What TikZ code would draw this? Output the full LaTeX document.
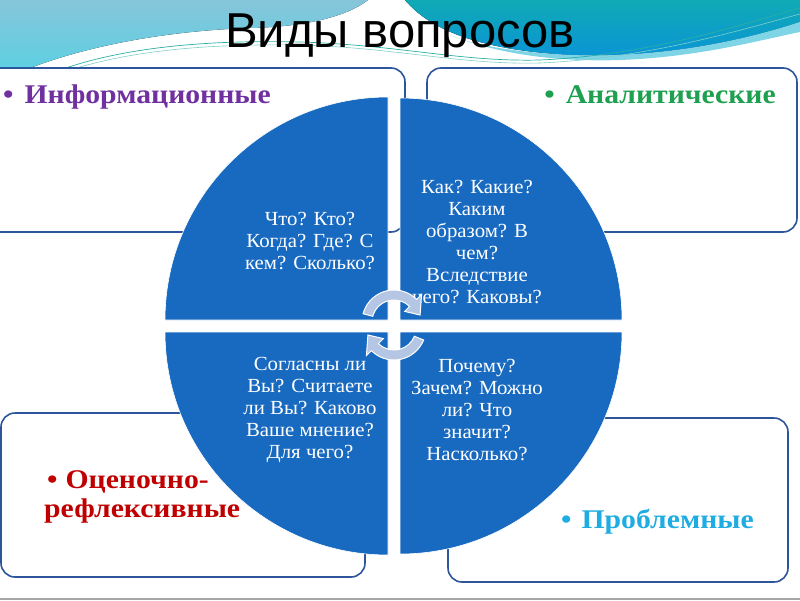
\documentclass[tikz,border=0pt]{standalone}
\usepackage{fontspec}
\setmainfont{Liberation Serif}
\newfontfamily\titlefont{Liberation Sans}
\newfontfamily\labelfont[FakeStretch=1.1]{Liberation Serif}
\newfontfamily\quadfont[FakeStretch=1.04]{Liberation Serif}
\definecolor{pieblue}{RGB}{24,105,192}
\definecolor{boxline}{RGB}{45,85,155}
\definecolor{lbtop}{RGB}{134,197,218}
\definecolor{lbbot}{RGB}{93,208,226}
\definecolor{tealtop}{RGB}{16,170,181}
\definecolor{tealbot}{RGB}{10,148,214}
\definecolor{cyanband}{RGB}{127,212,230}
\definecolor{wline}{RGB}{40,175,165}
\definecolor{arrowfill}{RGB}{180,198,228}
\definecolor{infopurple}{RGB}{112,48,160}
\definecolor{anagreen}{RGB}{30,160,80}
\definecolor{ocred}{RGB}{192,0,0}
\definecolor{problue}{RGB}{30,172,226}
\tikzset{
  framebox/.style={draw=boxline, line width=1.6pt, fill=white, rounded corners=14pt},
  quad/.style={fill=pieblue, draw=white, line width=0.6pt},
  quadtext/.style={text=white, align=center, inner sep=0pt, font=\quadfont\fontsize{20}{22}\selectfont},
  labeltext/.style={anchor=base west, inner sep=0pt, font=\labelfont\bfseries\fontsize{27}{29}\selectfont},
  cyclearrow/.style={fill=arrowfill, draw=white, line width=1pt},
}
\begin{document}
\begin{tikzpicture}[x=1pt,y=-1pt]
\useasboundingbox (0,0) rectangle (800,600);
% background band
\fill[top color=lbtop, bottom color=lbbot] (0,0) -- (368,0) .. controls (345,18) and (300,27) .. (250,28) .. controls (160,31) and (80,48) .. (25,70) -- (0,70) -- cycle;
\fill[top color=tealtop, bottom color=tealbot] (405,0) -- (800,0) -- (800,22) .. controls (730,45) and (650,58) .. (570,55) .. controls (480,50) and (430,30) .. (405,0) -- cycle;
\fill[cyanband] (450,35) .. controls (500,55) and (560,62) .. (620,60) .. controls (700,57) and (760,40) .. (800,32) -- (800,22) .. controls (730,45) and (650,58) .. (570,55) .. controls (510,52) and (470,44) .. (450,35) -- cycle;
\draw[wline, line width=0.7pt] (60,70) .. controls (130,45) and (220,40) .. (300,42) .. controls (400,45) and (460,62) .. (540,60) .. controls (650,55) and (740,25) .. (800,8);
\draw[wline!60, line width=0.6pt] (70,70) .. controls (140,48) and (220,44) .. (300,45) .. controls (400,48) and (460,65) .. (540,63) .. controls (650,58) and (740,30) .. (800,14);
\draw[gray!70, line width=2pt] (0,599) -- (800,599);
% boxes
\draw[framebox] (-20,68) rectangle (405,232);
\draw[framebox] (427,68) rectangle (797,232);
\draw[framebox] (1,413) rectangle (365,577);
\draw[framebox] (448,418) rectangle (788,582);
% labels
\node[labeltext, text=infopurple] (info) at (3,103) {•\hspace{11pt}Информационные};
\node[labeltext, anchor=base east, text=anagreen] (ana) at (776,103) {•\hspace{11pt}Аналитические};
\node[labeltext, text=ocred] (oc1) at (47,488) {•\hspace{8pt}Оценочно-};
\node[labeltext, text=ocred] (oc2) at (44,517) {рефлексивные};
\node[labeltext, text=problue] (pro) at (561,528) {•\hspace{10pt}Проблемные};
% quadrants
\path[quad] (388,320) -- (165,320) arc[start angle=180, end angle=270, radius=223] -- cycle;
\path[quad] (400,320) -- (400,98) arc[start angle=270, end angle=360, radius=222] -- cycle;
\path[quad] (388,332) -- (388,555) arc[start angle=90, end angle=180, radius=223] -- cycle;
\path[quad] (400,332) -- (622,332) arc[start angle=0, end angle=90, radius=222] -- cycle;
% quadrant texts
\node[quadtext] (q1) at (310,241) {Что? Кто?\\Когда? Где? С\\кем? Сколько?};
\node[quadtext] (q2) at (477,242) {Как? Какие?\\Каким\\образом? В\\чем?\\Вследствие\\чего? Каковы?};
\node[quadtext] (q3) at (310,410) {Согласны ли\\Вы? Считаете\\ли Вы? Каково\\Ваше мнение?\\Для чего?};
\node[quadtext] (q4) at (477,410) {Почему?\\Зачем? Можно\\ли? Что\\значит?\\Насколько?};
% cycle arrows
\begin{scope}[shift={(394,322)}]
\path[cyclearrow] (195:32) arc[start angle=195, end angle=315, radius=32] -- (315:39) -- (345:27) -- (315:15) -- (315:22) arc[start angle=315, end angle=195, radius=22] -- cycle;
\end{scope}
\begin{scope}[shift={(394,328)}]
\path[cyclearrow] (22:32) arc[start angle=22, end angle=135, radius=32] -- (135:39) -- (165:27) -- (135:15) -- (135:22) arc[start angle=135, end angle=22, radius=22] -- cycle;
\end{scope}
% title
\node[anchor=base, inner sep=0pt, font=\titlefont\fontsize{49}{51}\selectfont] (title) at (400,47) {Виды вопросов};
\end{tikzpicture}
\end{document}
